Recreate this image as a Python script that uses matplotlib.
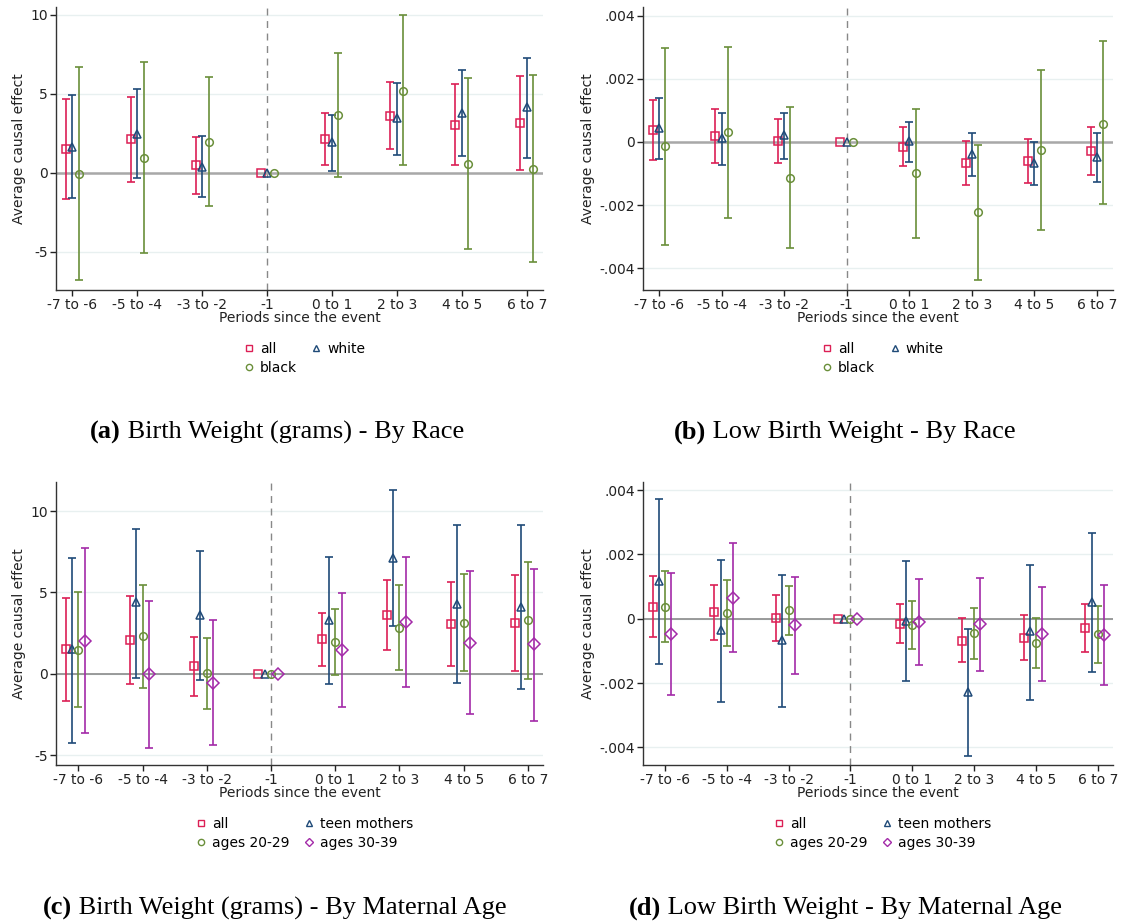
import numpy as np
import matplotlib.pyplot as plt
from matplotlib.lines import Line2D

periods = ['-7 to -6', '-5 to -4', '-3 to -2', '-1', '0 to 1', '2 to 3', '4 to 5', '6 to 7']

# birth weight (grams): estimate, lower, upper
bw_all = [1.50, 2.11, 0.48, 0.0, 2.12, 3.60, 3.04, 3.15]
bw_all_lo = [-1.64, -0.62, -1.34, 0.0, 0.47, 1.47, 0.50, 0.15]
bw_all_hi = [4.68, 4.81, 2.25, 0.0, 3.77, 5.75, 5.63, 6.10]

bw_white = [1.65, 2.47, 0.38, 0.0, 1.92, 3.46, 3.80, 4.18]
bw_white_lo = [-1.62, -0.36, -1.56, 0.0, 0.13, 1.14, 1.08, 0.95]
bw_white_hi = [4.94, 5.27, 2.30, 0.0, 3.63, 5.68, 6.48, 7.28]

bw_black = [-0.06, 0.95, 1.96, 0.0, 3.63, 5.19, 0.53, 0.25]
bw_black_lo = [-6.81, -5.06, -2.11, 0.0, -0.25, 0.49, -4.85, -5.68]
bw_black_hi = [6.69, 7.03, 6.08, 0.0, 7.57, 9.98, 6.01, 6.20]

bw_teen = [1.51, 4.40, 3.60, 0.0, 3.34, 7.14, 4.32, 4.13]
bw_teen_lo = [-4.22, -0.23, -0.35, 0.0, -0.59, 2.95, -0.53, -0.94]
bw_teen_hi = [7.10, 8.88, 7.57, 0.0, 7.18, 11.30, 9.17, 9.17]

bw_2029 = [1.47, 2.33, 0.06, 0.0, 1.94, 2.84, 3.11, 3.31]
bw_2029_lo = [-2.01, -0.88, -2.13, 0.0, -0.04, 0.25, 0.16, -0.29]
bw_2029_hi = [5.01, 5.46, 2.19, 0.0, 3.97, 5.46, 6.14, 6.85]

bw_3039 = [2.05, -0.02, -0.55, 0.0, 1.47, 3.17, 1.92, 1.82]
bw_3039_lo = [-3.64, -4.54, -4.36, 0.0, -2.01, -0.82, -2.43, -2.91]
bw_3039_hi = [7.76, 4.50, 3.29, 0.0, 4.95, 7.18, 6.34, 6.47]

# low birth weight: estimate, lower, upper
lbw_all = [0.00037, 0.00020, 0.00002, 0.0, -0.00016, -0.00068, -0.00060, -0.00029]
lbw_all_lo = [-0.00058, -0.00066, -0.00068, 0.0, -0.00076, -0.00136, -0.00130, -0.00105]
lbw_all_hi = [0.00132, 0.00104, 0.00074, 0.0, 0.00047, 0.00002, 0.00010, 0.00047]

lbw_white = [0.00044, 0.00013, 0.00022, 0.0, 0.00003, -0.00038, -0.00068, -0.00049]
lbw_white_lo = [-0.00055, -0.00074, -0.00053, 0.0, -0.00064, -0.00108, -0.00138, -0.00128]
lbw_white_hi = [0.00138, 0.00092, 0.00092, 0.0, 0.00064, 0.00027, 0.00000, 0.00027]

lbw_black = [-0.00013, 0.00031, -0.00115, 0.0, -0.00100, -0.00222, -0.00026, 0.00058]
lbw_black_lo = [-0.00327, -0.00240, -0.00335, 0.0, -0.00304, -0.00438, -0.00280, -0.00198]
lbw_black_hi = [0.00298, 0.00301, 0.00109, 0.0, 0.00103, -0.00010, 0.00227, 0.00318]

lbw_teen = [0.00117, -0.00036, -0.00067, 0.0, -0.00006, -0.00229, -0.00039, 0.00051]
lbw_teen_lo = [-0.00140, -0.00260, -0.00274, 0.0, -0.00193, -0.00426, -0.00253, -0.00166]
lbw_teen_hi = [0.00373, 0.00184, 0.00136, 0.0, 0.00179, -0.00031, 0.00168, 0.00265]

lbw_2029 = [0.00035, 0.00018, 0.00026, 0.0, -0.00021, -0.00044, -0.00076, -0.00047]
lbw_2029_lo = [-0.00074, -0.00084, -0.00050, 0.0, -0.00094, -0.00124, -0.00153, -0.00137]
lbw_2029_hi = [0.00149, 0.00119, 0.00102, 0.0, 0.00056, 0.00033, 0.00003, 0.00039]

lbw_3039 = [-0.00048, 0.00065, -0.00021, 0.0, -0.00010, -0.00018, -0.00048, -0.00050]
lbw_3039_lo = [-0.00237, -0.00104, -0.00173, 0.0, -0.00143, -0.00163, -0.00193, -0.00206]
lbw_3039_hi = [0.00141, 0.00235, 0.00131, 0.0, 0.00122, 0.00125, 0.00098, 0.00106]

RED = '#dc1f55'
BLUE = '#1f4a78'
GREEN = '#6a8f3a'
PURPLE = '#a32aa8'

W, H = 1121, 923
fig = plt.figure(figsize=(W / 100, H / 100), dpi=100)


def panel(rect, series, offsets, xlim, ylim, yticks, yticklabels, zero_lw, zero_col):
    ax = fig.add_axes(rect)
    x = np.arange(1, len(periods) + 1)
    for (est, lo, hi, col, mk, lab), off in zip(series, offsets):
        est = np.array(est); lo = np.array(lo); hi = np.array(hi)
        xs = x + off
        has_ci = hi != lo
        ax.errorbar(xs[has_ci], est[has_ci],
                    yerr=[est[has_ci] - lo[has_ci], hi[has_ci] - est[has_ci]],
                    fmt='none', ecolor=col, elinewidth=1.2, capsize=2.6, capthick=1.2, zorder=3)
        ax.plot(xs, est, ls='none', marker=mk, ms=5.8 if mk == 'D' else 5.5,
                mfc='none', mec=col, mew=1.1, zorder=4)
    ax.axhline(0, color=zero_col, lw=zero_lw, zorder=2)
    ax.axvline(4, color='#888888', lw=1, ls=(0, (5, 4)), zorder=1)
    ax.set_xlim(xlim)
    ax.set_ylim(ylim)
    ax.set_yticks(yticks)
    ax.set_yticklabels(yticklabels)
    ax.set_xticks(x)
    ax.set_xticklabels(periods)
    ax.yaxis.grid(True, color='#e8f0f0', lw=1)
    ax.set_axisbelow(True)
    for s in ['top', 'right']:
        ax.spines[s].set_visible(False)
    for s in ['left', 'bottom']:
        ax.spines[s].set_color('#333333')
        ax.spines[s].set_linewidth(1)
    ax.tick_params(axis='both', labelsize=10, colors='#222222', length=4, width=1, pad=2)
    ax.set_xlabel('Periods since the event', fontsize=10, labelpad=-1, color='#222222')
    ax.set_ylabel('Average causal effect', fontsize=10, color='#222222', labelpad=3)
    # legend with markers only, row-major order like the original
    n = len(series)
    order = [0, 2, 1] if n == 3 else [0, 2, 1, 3]
    handles = [Line2D([], [], ls='none', marker=series[i][4], mfc='none', mec=series[i][3],
                      mew=1, ms=4.5, label=series[i][5]) for i in order]
    ax.legend(handles=handles, loc='upper center', bbox_to_anchor=(0.51, -0.15), ncol=2,
              frameon=False, fontsize=10, handlelength=0.8, handletextpad=0.4,
              columnspacing=1.0, labelspacing=0.35, borderpad=0.2)
    return ax


race_a = [(bw_all, bw_all_lo, bw_all_hi, RED, 's', 'all'),
          (bw_white, bw_white_lo, bw_white_hi, BLUE, '^', 'white'),
          (bw_black, bw_black_lo, bw_black_hi, GREEN, 'o', 'black')]
race_b = [(lbw_all, lbw_all_lo, lbw_all_hi, RED, 's', 'all'),
          (lbw_white, lbw_white_lo, lbw_white_hi, BLUE, '^', 'white'),
          (lbw_black, lbw_black_lo, lbw_black_hi, GREEN, 'o', 'black')]
age_c = [(bw_all, bw_all_lo, bw_all_hi, RED, 's', 'all'),
         (bw_teen, bw_teen_lo, bw_teen_hi, BLUE, '^', 'teen mothers'),
         (bw_2029, bw_2029_lo, bw_2029_hi, GREEN, 'o', 'ages 20-29'),
         (bw_3039, bw_3039_lo, bw_3039_hi, PURPLE, 'D', 'ages 30-39')]
age_d = [(lbw_all, lbw_all_lo, lbw_all_hi, RED, 's', 'all'),
         (lbw_teen, lbw_teen_lo, lbw_teen_hi, BLUE, '^', 'teen mothers'),
         (lbw_2029, lbw_2029_lo, lbw_2029_hi, GREEN, 'o', 'ages 20-29'),
         (lbw_3039, lbw_3039_lo, lbw_3039_hi, PURPLE, 'D', 'ages 30-39')]

bw_ticks = [-5, 0, 5, 10]
bw_labels = ['-5', '0', '5', '10']
lbw_ticks = [-0.004, -0.002, 0, 0.002, 0.004]
lbw_labels = ['-.004', '-.002', '0', '.002', '.004']

panel([56 / W, 1 - 290 / H, 487 / W, 283.3 / H], race_a, [-0.1, 0, 0.1], (0.75, 8.25),
      (-7.42, 10.5), bw_ticks, bw_labels, 1.8, '#a8a8a8')
panel([643.3 / W, 1 - 290 / H, 469.4 / W, 283.3 / H], race_b, [-0.1, 0, 0.1], (0.75, 8.25),
      (-0.00469, 0.00428), lbw_ticks, lbw_labels, 1.8, '#a8a8a8')
panel([56 / W, 1 - 765 / H, 487.3 / W, 283.3 / H], age_c, [-0.2, -0.1, 0, 0.1], (0.65, 8.24),
      (-5.59, 11.8), bw_ticks, bw_labels, 1.2, '#8a8a8a')
panel([643.3 / W, 1 - 765 / H, 469.4 / W, 283.3 / H], age_d, [-0.2, -0.1, 0, 0.1], (0.65, 8.24),
      (-0.00455, 0.00426), lbw_ticks, lbw_labels, 1.2, '#8a8a8a')

# captions: bold tag + plain text, centred as a pair
captions = [('(a)', 'Birth Weight (grams) - By Race', 277, 432),
            ('(b)', 'Low Birth Weight - By Race', 845, 432),
            ('(c)', 'Birth Weight (grams) - By Maternal Age', 275, 908),
            ('(d)', 'Low Birth Weight - By Maternal Age', 845, 908)]
fig.canvas.draw()
renderer = fig.canvas.get_renderer()
for tag, txt, cx, cy in captions:
    t1 = fig.text(0, 1 - cy / H, tag, fontsize=19, fontweight='bold', family='Liberation Serif',
                  va='center', ha='left')
    t2 = fig.text(0, 1 - cy / H, ' ' + txt, fontsize=19, family='Liberation Serif',
                  va='center', ha='left')
    w1 = t1.get_window_extent(renderer).width
    w2 = t2.get_window_extent(renderer).width
    x0 = cx - (w1 + w2) / 2
    t1.set_x(x0 / W)
    t2.set_x((x0 + w1) / W)

fig.savefig('out.png', dpi=100)
